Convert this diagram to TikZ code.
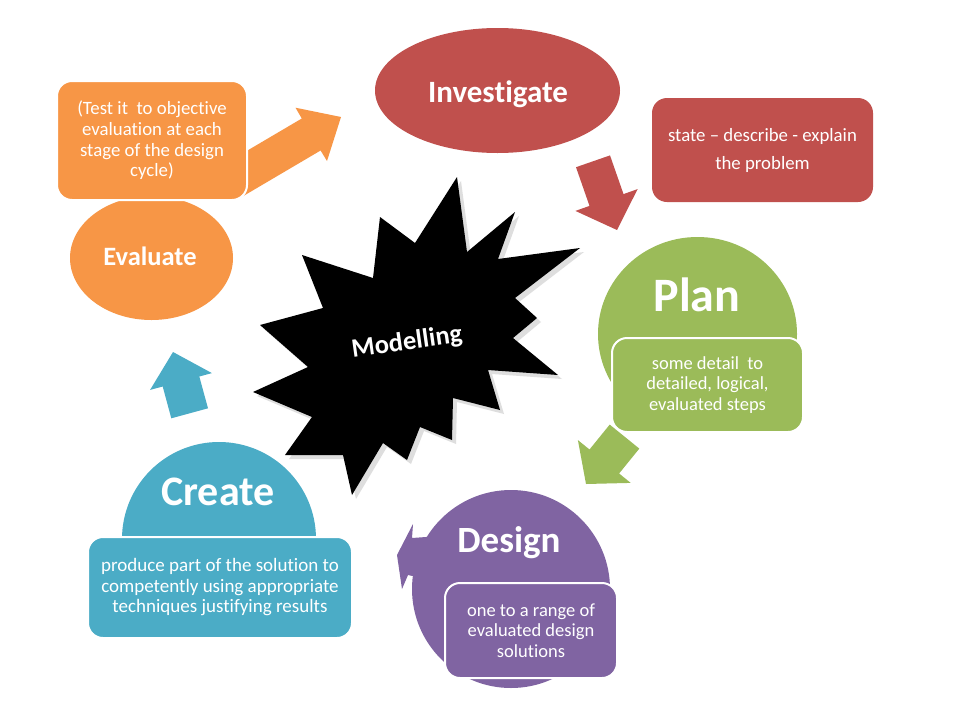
\documentclass[tikz,border=0pt]{standalone}
\usepackage{fontspec}
\setmainfont{Carlito}[RawFeature={-liga;-clig;-calt;-dlig}]
\usetikzlibrary{shapes.geometric}
\definecolor{cred}{HTML}{C0504D}
\definecolor{cgreen}{HTML}{9BBB59}
\definecolor{cpurple}{HTML}{8064A2}
\definecolor{cblue}{HTML}{4BACC6}
\definecolor{corange}{HTML}{F79646}
\tikzset{
  stageshape/.style={draw=none, inner sep=0pt},
  title/.style={text=white, font=\bfseries\fontsize{#1}{#1}\selectfont, anchor=base, inner sep=0pt},
  infobox/.style={rounded corners=15pt, draw=white, line width=2pt, text=white, align=center, inner sep=0pt},
  blockarrow/.style={draw=none},
}
\begin{document}
\begin{tikzpicture}[x=1pt,y=-1pt]
\useasboundingbox (0,0) rectangle (960,720);
\fill[white] (0,0) rectangle (960,720);

% ---- block arrows (behind shapes)
\fill[blockarrow, corange] (219.8,166.8) -- (301.8,118.5) -- (295.5,107.7) -- (341,117) -- (327,161) -- (320.6,150.5) -- (238.6,198.8) -- cycle;
\fill[blockarrow, cred] (576,167.2) -- (610,155.4) -- (623.5,194.1) -- (637.6,189.1) -- (617,230) -- (575.4,210.9) -- (589.5,205.9) -- cycle;
\fill[blockarrow, cgreen] (609.7,424.6) -- (639.3,448.6) -- (619.1,473.5) -- (630.7,482.9) -- (586,484) -- (577.9,440.1) -- (589.5,449.5) -- cycle;
\fill[blockarrow, cblue] (171.3,418.3) -- (162.7,386.5) -- (150.1,389.9) -- (173,352) -- (211.9,373.1) -- (199.3,376.5) -- (208,408.3) -- cycle;
\fill[blockarrow, cpurple] (440,536) -- (412,538) -- (413,524) -- (397,555) -- (402,589) -- (408,575) -- (440,582) -- cycle;

% ---- starburst
\fill[black!25, opacity=0.5, shift={(4,4)}] (457,177) -- (467,252) -- (515,212) -- (498,259) -- (580,248) -- (515,298) -- (537,318) -- (513,338) -- (558,375) -- (488,370) -- (500,410) -- (453,398) -- (452,440) -- (420,427) -- (407,460) -- (383,443) -- (352,495) -- (343,455) -- (285,455) -- (312,417) -- (253,392) -- (308,367) -- (260,325) -- (323,308) -- (302,255) -- (373,278) -- (380,217) -- (415,243) -- cycle;
\fill[black] (457,177) -- (467,252) -- (515,212) -- (498,259) -- (580,248) -- (515,298) -- (537,318) -- (513,338) -- (558,375) -- (488,370) -- (500,410) -- (453,398) -- (452,440) -- (420,427) -- (407,460) -- (383,443) -- (352,495) -- (343,455) -- (285,455) -- (312,417) -- (253,392) -- (308,367) -- (260,325) -- (323,308) -- (302,255) -- (373,278) -- (380,217) -- (415,243) -- cycle;
\node[text=white, font=\bfseries\fontsize{26.5}{26.5}\selectfont, rotate=8, inner sep=0pt] (modelling) at (407,343) {Modelling};

% ---- stage shapes
\node[stageshape, ellipse, fill=cred, minimum width=245pt, minimum height=125pt] (invest) at (497.5,90.5) {};
\node[stageshape, ellipse, fill=corange, minimum width=163pt, minimum height=124pt] (evalshape) at (151.5,258) {};
\node[stageshape, ellipse, fill=cgreen, minimum width=199pt, minimum height=194pt] (planshape) at (697.5,334) {};
\node[stageshape, circle, fill=cpurple, minimum size=198pt] (designshape) at (511,589) {};
\node[stageshape, circle, fill=cblue, minimum size=194pt] (createshape) at (219,539) {};

% ---- info boxes
\node[infobox, fill=corange, minimum width=190pt, minimum height=119pt, font=\fontsize{18.8}{20.7}\selectfont] (evalbox) at (152,140.5) {(Test it \ to objective\\evaluation at each\\stage of the design\\cycle)};
\node[infobox, fill=cred, draw=none, minimum width=221pt, minimum height=104pt, font=\fontsize{18.8}{28}\selectfont] (investbox) at (762.5,150) {state – describe - explain\\the problem};
\node[infobox, fill=cgreen, minimum width=191pt, minimum height=94pt, font=\fontsize{18.5}{20.5}\selectfont] (planbox) at (707.5,385) {some detail \ to\\detailed, logical,\\evaluated steps};
\node[infobox, fill=cpurple, minimum width=172pt, minimum height=95pt, font=\fontsize{18.5}{20.5}\selectfont] (designbox) at (531,630.5) {one to a range of\\evaluated design\\solutions};
\node[infobox, fill=cblue, minimum width=264pt, minimum height=101pt, font=\fontsize{19}{20.5}\selectfont] (createbox) at (220,587.5) {produce part of the solution to\\competently using appropriate\\techniques justifying results};

% ---- titles
\node[title=31] (investtext) at (498,102) {Investigate};
\node[title=26.5] (evaltext) at (150,265) {Evaluate};
\node[title=48] (plantext) at (697,311) {Plan};
\node[title=37] (designtext) at (509,552) {Design};
\node[title=42] (createtext) at (218,505) {Create};
\end{tikzpicture}
\end{document}
